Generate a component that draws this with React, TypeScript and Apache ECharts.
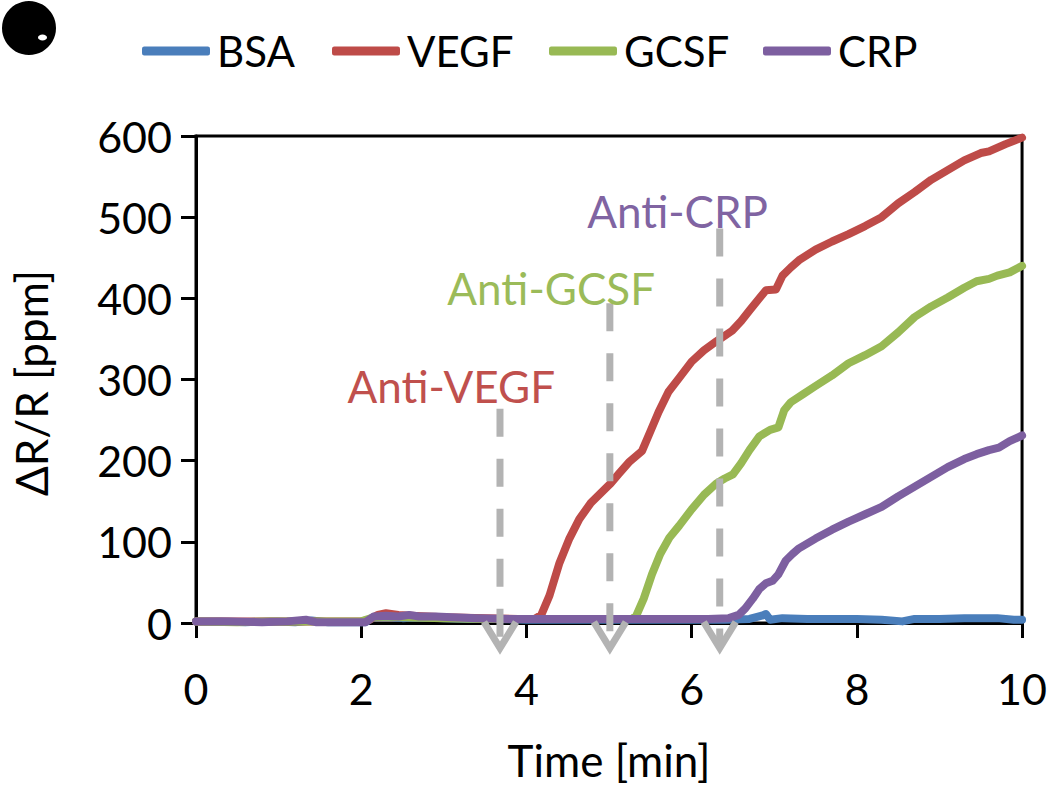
import React, { useEffect, useRef } from "react";
import * as echarts from "echarts";

const seriesNames = ["BSA", "VEGF", "GCSF", "CRP"];
const seriesColors = ["#4a7ebb", "#be4b48", "#98b954", "#7d5fa0"];

const bsaData: [number, number][] = [
  [0, 2], [0.3, 2], [0.6, 1], [0.9, 2], [1.2, 1], [1.4, 3], [1.6, 1], [1.9, 1], [2.05, 1],
  [2.15, 7], [2.3, 8], [2.5, 6], [2.7, 7], [3.0, 6], [3.3, 5], [3.6, 5], [4.0, 4], [4.5, 4],
  [5.0, 4], [5.5, 4], [6.0, 4], [6.4, 4], [6.7, 5], [6.85, 9], [6.9, 11], [6.95, 4], [7.1, 6],
  [7.4, 5], [7.7, 5], [8.0, 5], [8.3, 4], [8.55, 2], [8.7, 5], [9.0, 5], [9.3, 6], [9.5, 6],
  [9.7, 6], [9.9, 4], [10, 4],
];

const vegfData: [number, number][] = [
  [0, 2], [0.5, 2], [1.0, 2], [1.5, 2], [2.0, 2], [2.1, 4], [2.2, 10], [2.3, 12], [2.45, 10],
  [2.6, 9], [3.0, 7], [3.5, 6], [3.9, 5], [4.1, 5], [4.18, 10], [4.28, 34], [4.4, 74],
  [4.52, 104], [4.64, 128], [4.78, 148], [4.9, 160], [5.02, 172], [5.12, 184], [5.24, 198],
  [5.4, 212], [5.5, 236], [5.6, 260], [5.72, 285], [5.85, 302], [6.0, 322], [6.15, 336],
  [6.3, 347], [6.49, 360], [6.6, 372], [6.7, 385], [6.82, 400], [6.9, 410], [7.02, 411],
  [7.1, 428], [7.2, 438], [7.3, 447], [7.5, 460], [7.7, 470], [7.9, 479], [8.1, 489],
  [8.3, 500], [8.5, 517], [8.7, 531], [8.9, 546], [9.1, 558], [9.3, 570], [9.5, 579],
  [9.6, 581], [9.8, 590], [10, 598],
];

const gcsfData: [number, number][] = [
  [0, 2], [0.5, 1], [1.0, 2], [1.5, 2], [2.0, 2], [2.15, 7], [2.3, 8], [2.5, 7], [3.0, 6],
  [3.5, 5], [4.0, 5], [4.5, 5], [5.0, 5], [5.28, 5], [5.33, 9], [5.42, 30], [5.52, 60],
  [5.62, 85], [5.73, 105], [5.85, 120], [6.0, 140], [6.15, 158], [6.3, 172], [6.4, 178],
  [6.5, 183], [6.6, 197], [6.7, 213], [6.82, 230], [6.95, 238], [7.05, 241], [7.12, 262],
  [7.2, 272], [7.35, 282], [7.5, 292], [7.7, 305], [7.9, 320], [8.1, 330], [8.3, 341],
  [8.5, 358], [8.7, 377], [8.9, 390], [9.1, 401], [9.3, 413], [9.45, 421], [9.6, 424],
  [9.7, 428], [9.85, 432], [10, 440],
];

const crpData: [number, number][] = [
  [0, 2], [0.4, 2], [0.8, 1], [1.1, 2], [1.33, 4], [1.45, 1], [1.8, 1], [2.05, 1], [2.15, 8],
  [2.3, 9], [2.45, 8], [2.58, 10], [2.7, 8], [2.9, 8], [3.1, 7], [3.4, 6], [3.8, 5], [4.2, 5],
  [4.6, 5], [5.0, 5], [5.4, 5], [5.8, 5], [6.2, 5], [6.45, 6], [6.57, 10], [6.65, 18],
  [6.74, 30], [6.82, 42], [6.9, 49], [6.98, 52], [7.05, 60], [7.14, 77], [7.22, 85],
  [7.3, 92], [7.5, 104], [7.7, 115], [7.9, 125], [8.1, 134], [8.3, 143], [8.5, 156],
  [8.7, 168], [8.9, 180], [9.1, 192], [9.3, 202], [9.45, 208], [9.6, 213], [9.72, 216],
  [9.85, 224], [10, 231],
];

// arrows: [time, top value]
const arrowData: [number, number][] = [
  [3.68, 264],
  [5.01, 394],
  [6.34, 486],
];

const annotationTexts = ["Anti-VEGF", "Anti-GCSF", "Anti-CRP"];
const annotationPos: [number, number][] = [
  [3.09, 292],
  [4.3, 413],
  [5.83, 507],
];
const annotationColors = ["#c0504d", "#9bbb59", "#8064a2"];

const xTicks = { min: 0, max: 10, interval: 2 };
const yTicks = { min: 0, max: 600, interval: 100 };

const FONT = "Lato";

export default function App() {
  const ref = useRef<HTMLDivElement>(null);
  useEffect(() => {
    if (!ref.current) return;
    const chart = echarts.init(ref.current, null, { renderer: "svg" });
    const allData = [bsaData, vegfData, gcsfData, crpData];
    const legendLefts = [137, 327, 544, 758];
    const option: any = {
      animation: false,
      backgroundColor: "#fff",
      grid: {
        left: 196,
        right: 26,
        top: 136,
        bottom: 165,
        show: true,
        borderColor: "#000",
        borderWidth: 3,
      },
      legend: seriesNames.map((n, i) => ({
        data: [n],
        left: legendLefts[i],
        top: 25,
        icon: "roundRect",
        itemWidth: 68,
        itemHeight: 9,
        textStyle: { fontFamily: FONT, fontSize: 42, color: "#000", padding: [0, 0, 0, 2] },
      })),
      xAxis: {
        type: "value",
        min: xTicks.min,
        max: xTicks.max,
        interval: xTicks.interval,
        axisLine: { show: true, lineStyle: { color: "#000", width: 3 } },
        axisTick: { show: true, inside: false, length: 15, lineStyle: { color: "#000", width: 3 } },
        splitLine: { show: false },
        axisLabel: { fontFamily: FONT, fontSize: 43, color: "#000", margin: 44 },
      },
      yAxis: {
        type: "value",
        min: yTicks.min,
        max: yTicks.max,
        interval: yTicks.interval,
        axisLine: { show: true, lineStyle: { color: "#000", width: 3 } },
        axisTick: { show: true, inside: false, length: 15, lineStyle: { color: "#000", width: 3 } },
        splitLine: { show: false },
        axisLabel: { fontFamily: FONT, fontSize: 43, color: "#000", margin: 24 },
      },
      series: [
        ...seriesNames.map((n, i) => ({
          name: n,
          type: "line",
          data: allData[i],
          showSymbol: false,
          symbol: "none",
          color: seriesColors[i],
          lineStyle: { width: 8, color: seriesColors[i], cap: "round", join: "round" },
          z: 2 + i,
        })),
        {
          type: "custom",
          name: "arrows",
          data: arrowData,
          clip: false,
          z: 10,
          renderItem: (params: any, api: any) => {
            const x = api.value(0);
            const top = api.value(1);
            const p1 = api.coord([x, top]);
            const p0 = api.coord([x, 0]);
            const tipY = p0[1] + 25;
            return {
              type: "group",
              children: [
                {
                  type: "line",
                  shape: { x1: p1[0], y1: p1[1], x2: p1[0], y2: tipY - 2 },
                  style: { stroke: "#b3b3b3", lineWidth: 7, lineDash: [28, 22] },
                },
                {
                  type: "polyline",
                  shape: {
                    points: [
                      [p1[0] - 16, tipY - 26],
                      [p1[0], tipY],
                      [p1[0] + 16, tipY - 26],
                    ],
                  },
                  style: { stroke: "#b3b3b3", lineWidth: 7, fill: "none" },
                },
              ],
            };
          },
        },
        {
          type: "custom",
          name: "annotations",
          data: annotationPos.map((p, i) => [p[0], p[1], i]),
          clip: false,
          z: 11,
          renderItem: (params: any, api: any) => {
            const idx = api.value(2);
            const p = api.coord([api.value(0), api.value(1)]);
            return {
              type: "text",
              x: p[0],
              y: p[1],
              style: {
                text: annotationTexts[idx],
                fill: annotationColors[idx],
                fontFamily: FONT,
                fontSize: 44,
                align: "center",
                verticalAlign: "middle",
              },
            };
          },
        },
      ],
      graphic: [
        { type: "circle", shape: { cx: 29, cy: 28, r: 27 }, style: { fill: "#000" } },
        { type: "ellipse", shape: { cx: 42.5, cy: 37.5, rx: 4.5, ry: 3 }, style: { fill: "#fff" } },
        {
          type: "text",
          x: 31,
          y: 383,
          rotation: Math.PI / 2,
          style: {
            text: "ΔR/R [ppm]",
            fontFamily: FONT,
            fontSize: 44,
            fill: "#000",
            align: "center",
            verticalAlign: "middle",
          },
        },
        {
          type: "text",
          x: 609,
          y: 760,
          style: {
            text: "Time [min]",
            fontFamily: FONT,
            fontSize: 44,
            fill: "#000",
            align: "center",
            verticalAlign: "middle",
          },
        },
      ],
    };
    chart.setOption(option);
    return () => chart.dispose();
  }, []);
  return (
    <div
      ref={ref}
      style={{ position: "absolute", left: 0, top: 0, width: 1050, height: 788, background: "#fff" }}
    />
  );
}
